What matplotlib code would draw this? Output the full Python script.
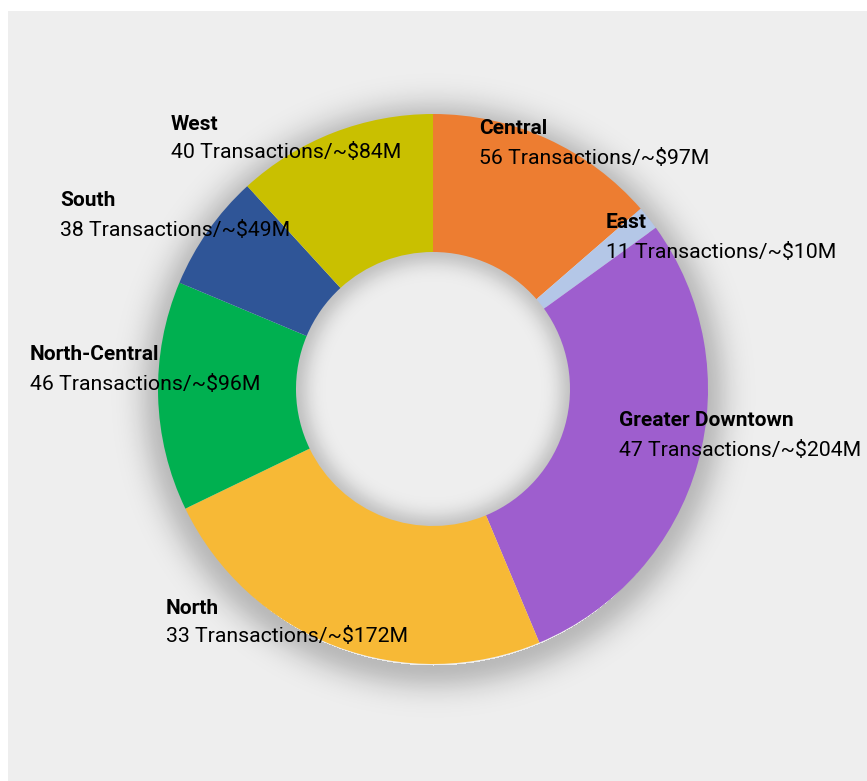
import matplotlib
matplotlib.use("Agg")
import matplotlib.pyplot as plt
import numpy as np
from matplotlib.patches import Rectangle

regions = ["Central", "East", "Greater Downtown", "North", "North-Central", "South", "West"]
transactions = [56, 11, 47, 33, 46, 38, 40]
dollars_m = [97, 10, 204, 172, 96, 49, 84]
colors = ["#ED7D31", "#B4C7E7", "#9E5ECE", "#F7B936", "#00B050", "#2F5597", "#C9C000"]

# label anchor (left x, title-line y) in pixel coords, top-left origin
label_pos = {
    "Central": (479, 129),
    "East": (606, 223),
    "Greater Downtown": (619, 421),
    "North": (166, 608),
    "North-Central": (30, 355),
    "South": (60, 201),
    "West": (171, 124),
}

W, H = 867, 781
FONT = ["Roboto", "DejaVu Sans"]

fig = plt.figure(figsize=(W / 100, H / 100), dpi=100)
fig.patch.set_facecolor("white")
ax = fig.add_axes([0, 0, 1, 1])

ax.add_patch(Rectangle((8, 0), W - 8, H - 11, facecolor="#EEEEEE", edgecolor="none", zorder=0))

cx, cy = 433, H - 389
r_out, r_in = 275, 137

# soft drop shadow around the ring
yy, xx = np.mgrid[0:H, 0:W]
d = np.hypot(xx - cx, (H - yy) - (cy - 6))
alpha = np.zeros_like(d, dtype=float)
outer = d > r_out - 5
alpha[outer] = 0.22 * np.exp(-((d[outer] - r_out + 5) / 26.0) ** 2)
d2 = np.hypot(xx - cx, (H - yy) - cy)
inner = d2 < r_in + 2
alpha[inner] = 0.18 * np.exp(-((r_in + 2 - d2[inner]) / 16.0) ** 2)
shadow = np.zeros((H, W, 4))
shadow[..., 3] = alpha
ax.imshow(shadow, extent=(0, W, 0, H), origin="upper", zorder=1, interpolation="bilinear")

ax.pie(
    dollars_m,
    colors=colors,
    startangle=90,
    counterclock=False,
    center=(cx, cy),
    radius=r_out,
    wedgeprops={"width": r_out - r_in, "edgecolor": "none", "zorder": 2},
    frame=True,
)
ax.set_xlim(0, W)
ax.set_ylim(0, H)
ax.set_aspect("equal")
ax.axis("off")

for name, n, m in zip(regions, transactions, dollars_m):
    x, y = label_pos[name]
    ax.text(x, H - y, name, ha="left", va="center", fontsize=15, fontweight="bold",
            family=FONT, color="black", zorder=5)
    ax.text(x, H - y - 29, f"{n} Transactions/~${m}M", ha="left", va="center",
            fontsize=15.3, family=FONT, color="black", zorder=5)

fig.savefig("out.png", dpi=100, facecolor="white")
